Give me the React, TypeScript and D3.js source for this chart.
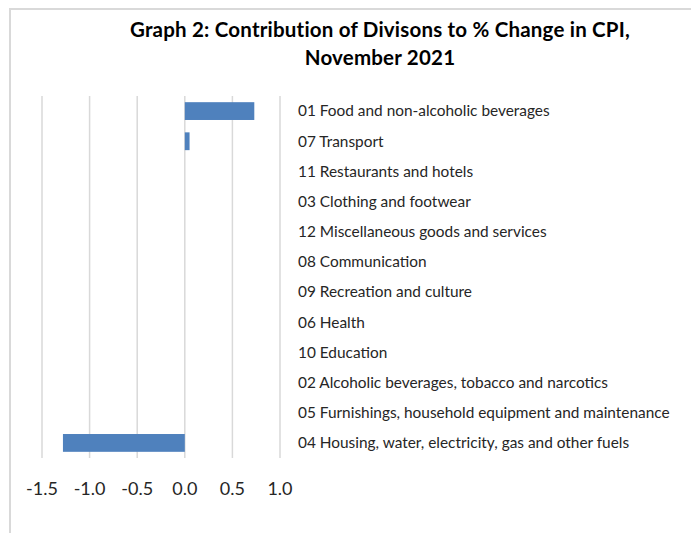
import { useRef, useEffect } from 'react';
import { select, scaleLinear, scaleBand } from 'd3';

const categories = [
  '01 Food and non-alcoholic beverages',
  '07 Transport',
  '11 Restaurants and hotels',
  '03 Clothing and footwear',
  '12 Miscellaneous goods and services',
  '08 Communication',
  '09 Recreation and culture',
  '06 Health',
  '10 Education',
  '02 Alcoholic beverages, tobacco and narcotics',
  '05 Furnishings, household equipment and maintenance',
  '04 Housing, water, electricity, gas and other fuels',
];
const values = [0.73, 0.05, 0, 0, 0, 0, 0, 0, 0, 0, 0, -1.28];
const ticks = [-1.5, -1.0, -0.5, 0.0, 0.5, 1.0];
const titleLines = ['Graph 2: Contribution of Divisons to % Change in CPI,', 'November 2021'];

const W = 691;
const H = 533;
const FONT = 'Lato, "Open Sans", sans-serif';

const App = () => {
  const svgRef = useRef<SVGSVGElement>(null);

  useEffect(() => {
    const svg = select(svgRef.current);
    svg.selectAll('*').remove();

    const x = scaleLinear().domain([-1.5, 1.0]).range([42, 280]);
    const y = scaleBand().domain(categories).range([96, 458]).paddingInner(0.41).paddingOuter(0.205);

    // outer frame (cropped on right and bottom)
    svg.append('path')
      .attr('d', `M10,${H} L10,9 L${W},9`)
      .attr('fill', 'none')
      .attr('stroke', '#d9d9d9')
      .attr('stroke-width', 2);

    svg.append('g')
      .selectAll('text')
      .data(titleLines)
      .join('text')
      .attr('x', 380)
      .attr('y', (d, i) => 37 + i * 28)
      .attr('text-anchor', 'middle')
      .attr('font-family', FONT)
      .attr('font-weight', 'bold')
      .attr('font-size', 20.5)
      .attr('letter-spacing', 0.2)
      .attr('fill', '#000')
      .text((d) => d);

    svg.append('g')
      .selectAll('line')
      .data(ticks)
      .join('line')
      .attr('x1', (d) => x(d))
      .attr('x2', (d) => x(d))
      .attr('y1', 96)
      .attr('y2', 458)
      .attr('stroke', '#d9d9d9')
      .attr('stroke-width', 1.5);

    svg.append('g')
      .selectAll('rect')
      .data(values)
      .join('rect')
      .attr('x', (d) => x(Math.min(0, d)))
      .attr('y', (d, i) => y(categories[i]) as number)
      .attr('width', (d) => Math.abs(x(d) - x(0)))
      .attr('height', y.bandwidth())
      .attr('fill', '#4f81bd');

    svg.append('g')
      .selectAll('text')
      .data(categories)
      .join('text')
      .attr('x', 298)
      .attr('y', (d) => (y(d) as number) + y.bandwidth() / 2)
      .attr('dy', '0.35em')
      .attr('font-family', FONT)
      .attr('font-size', 15.4)
      .attr('fill', '#262626')
      .text((d) => d);

    svg.append('g')
      .selectAll('text')
      .data(ticks)
      .join('text')
      .attr('x', (d) => x(d))
      .attr('y', 489)
      .attr('dy', '0.35em')
      .attr('text-anchor', 'middle')
      .attr('font-family', FONT)
      .attr('font-size', 18)
      .attr('fill', '#262626')
      .text((d) => d.toFixed(1));
  }, []);

  return (
    <svg
      ref={svgRef}
      width={W}
      height={H}
      style={{ position: 'absolute', left: 0, top: 0, background: '#fff' }}
    />
  );
};

export default App;
